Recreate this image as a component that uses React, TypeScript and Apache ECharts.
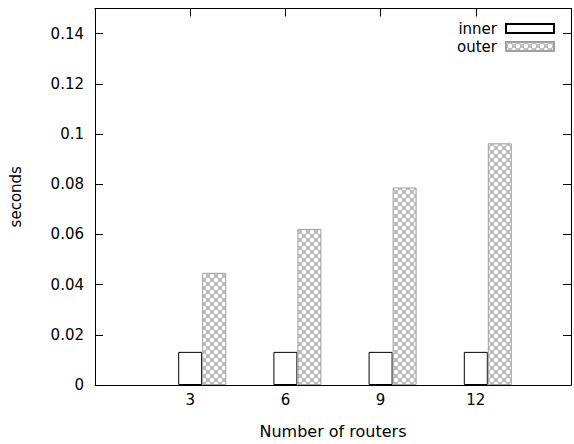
import React, { useEffect, useRef } from "react";
import * as echarts from "echarts";

const xTicks = [3, 6, 9, 12];
const innerValues = [0.0132, 0.0132, 0.0132, 0.0132];
const outerValues = [0.0447, 0.0622, 0.0787, 0.0963];
const seriesNames = ["inner", "outer"];
const xAxisName = "Number of routers";
const yAxisName = "seconds";

function makeHatch(): HTMLCanvasElement {
  const c = document.createElement("canvas");
  c.width = 8;
  c.height = 8;
  const ctx = c.getContext("2d")!;
  ctx.fillStyle = "#bcbcbc";
  ctx.fillRect(0, 0, 8, 8);
  ctx.fillStyle = "#ffffff";
  const pts = [
    [0, 0],
    [8, 0],
    [0, 8],
    [8, 8],
    [4, 4],
  ];
  for (const [x, y] of pts) {
    ctx.beginPath();
    ctx.arc(x, y, 2.2, 0, Math.PI * 2);
    ctx.fill();
  }
  return c;
}

export default function App() {
  const ref = useRef<HTMLDivElement>(null);
  useEffect(() => {
    document.body.style.margin = "0";
    if (!ref.current) return;
    const chart = echarts.init(ref.current, null, { renderer: "svg" });
    const font = "DejaVu Sans";
    const hatch = makeHatch();
    const fmtX = (v: number) => (xTicks.includes(v) ? String(v) : "");
    const fmtY = (v: number) => (v > 0.145 ? "" : String(Math.round(v * 100) / 100));
    const axisLine = () => ({ show: true, onZero: false, lineStyle: { color: "#000", width: 1 } });
    const axisTick = () => ({ show: true, inside: true, length: 8, lineStyle: { color: "#000", width: 1 } });
    chart.setOption({
      animation: false,
      backgroundColor: "#fff",
      textStyle: { fontFamily: font },
      grid: { left: 94.5, top: 8.5, width: 482.5, height: 378 },
      legend: {
        data: seriesNames,
        orient: "vertical",
        align: "right",
        right: 14,
        top: 15,
        icon: "rect",
        itemWidth: 48,
        itemHeight: 9,
        itemGap: 1,
        textStyle: { fontFamily: font, fontSize: 15, lineHeight: 17, color: "#000", padding: [0, 4, 0, 0] },
      },
      xAxis: [
        {
          type: "value",
          position: "bottom",
          min: 0,
          max: 15,
          interval: 3,
          axisLine: axisLine(),
          axisTick: axisTick(),
          splitLine: { show: false },
          axisLabel: { formatter: fmtX, fontFamily: font, fontSize: 15, color: "#000", margin: 7 },
          name: xAxisName,
          nameLocation: "middle",
          nameGap: 38,
          nameTextStyle: { fontFamily: font, fontSize: 16, color: "#000" },
        },
        {
          type: "value",
          position: "top",
          min: 0,
          max: 15,
          interval: 3,
          axisLine: axisLine(),
          axisTick: axisTick(),
          splitLine: { show: false },
          axisLabel: { show: false },
        },
      ],
      yAxis: [
        {
          type: "value",
          position: "left",
          min: 0,
          max: 0.15,
          interval: 0.02,
          axisLine: axisLine(),
          axisTick: axisTick(),
          splitLine: { show: false },
          axisLabel: { formatter: fmtY, fontFamily: font, fontSize: 15, color: "#000", margin: 11 },
          name: yAxisName,
          nameLocation: "middle",
          nameGap: 72,
          nameTextStyle: { fontFamily: font, fontSize: 15, color: "#000" },
        },
        {
          type: "value",
          position: "right",
          min: 0,
          max: 0.15,
          interval: 0.02,
          axisLine: axisLine(),
          axisTick: axisTick(),
          splitLine: { show: false },
          axisLabel: { show: false },
        },
      ],
      series: [
        {
          name: "_pad",
          type: "bar",
          xAxisIndex: 0,
          yAxisIndex: 0,
          barWidth: 24,
          barGap: "0%",
          data: xTicks.map((x) => [x, 0]),
          itemStyle: { color: "rgba(0,0,0,0)", borderWidth: 0 },
          silent: true,
        },
        {
          name: seriesNames[0],
          type: "bar",
          xAxisIndex: 0,
          yAxisIndex: 0,
          barWidth: 24,
          barGap: "0%",
          data: xTicks.map((x, i) => [x, innerValues[i]]),
          itemStyle: { color: "#ffffff", borderColor: "#000", borderWidth: 1 },
        },
        {
          name: seriesNames[1],
          type: "bar",
          xAxisIndex: 0,
          yAxisIndex: 0,
          barWidth: 24,
          barGap: "0%",
          data: xTicks.map((x, i) => [x, outerValues[i]]),
          itemStyle: {
            color: { image: hatch, repeat: "repeat", imageWidth: 8, imageHeight: 8 },
            borderColor: "#a0a0a0",
            borderWidth: 1,
          },
        },
      ],
    });
    return () => chart.dispose();
  }, []);
  return <div ref={ref} style={{ width: 574, height: 444 }} />;
}
